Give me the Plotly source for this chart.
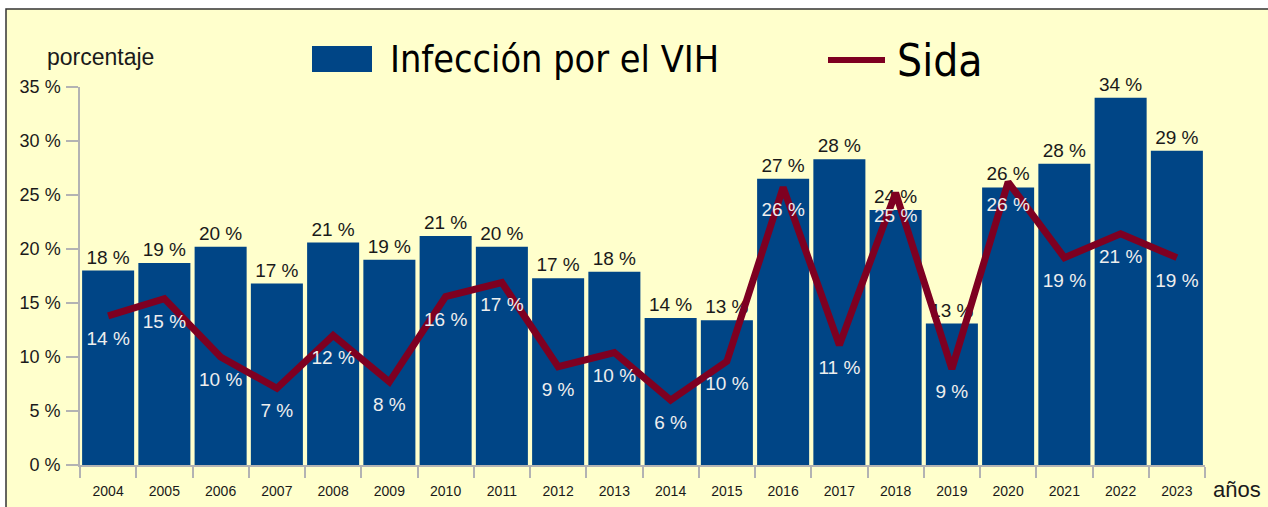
import plotly.graph_objects as go

years = [str(y) for y in range(2004, 2024)]
vih = [18.0, 18.7, 20.2, 16.8, 20.6, 19.0, 21.2, 20.2, 17.3, 17.9,
       13.6, 13.4, 26.5, 28.3, 23.6, 13.1, 25.7, 27.9, 34.0, 29.1]
sida = [13.8, 15.4, 10.0, 7.1, 12.0, 7.7, 15.6, 16.9, 9.1, 10.4,
        6.0, 9.6, 25.7, 11.1, 25.2, 8.9, 26.2, 19.2, 21.4, 19.2]
y_ticks = [0, 5, 10, 15, 20, 25, 30, 35]

BLUE = "#004586"
RED = "#7e0021"
BG = "#ffffcc"
FONT = "Liberation Sans, Arial, sans-serif"
LEG_FONT = "Liberation Sans Narrow, DejaVu Sans Condensed, sans-serif"

# pixel -> paper helpers (plot area 80..1205 x 87..465)
L, R, T, B = 80, 1205, 87, 465
def px(x):
    return (x - L) / (R - L)
def py(y):
    return (B - y) / (B - T)

fig = go.Figure()
fig.add_trace(go.Bar(
    x=years, y=vih, name="Infección por el VIH",
    marker=dict(color=BLUE, line=dict(width=0)),
    text=vih, texttemplate="%{y:.0f} %", textposition="outside",
    textfont=dict(size=19, color="#1a1a1a", family=FONT),
    constraintext="none", cliponaxis=False,
))
fig.add_trace(go.Scatter(
    x=years, y=sida, name="Sida", mode="lines+markers+text",
    line=dict(color=RED, width=7),
    marker=dict(size=22, color="rgba(0,0,0,0)"),
    text=sida, texttemplate="%{y:.0f} %", textposition="bottom center",
    textfont=dict(size=19, color="#eeeeee", family=FONT),
    cliponaxis=False,
))

shapes = [
    # chart frame
    dict(type="rect", xref="paper", yref="paper", layer="below",
         x0=px(6), x1=px(1290), y0=py(530), y1=py(9),
         fillcolor=BG, line=dict(color="#333333", width=1.5)),
    # legend swatches
    dict(type="rect", xref="paper", yref="paper",
         x0=px(312), x1=px(372), y0=py(72), y1=py(46),
         fillcolor=BLUE, line=dict(width=0)),
    dict(type="line", xref="paper", yref="paper",
         x0=px(828), x1=px(885), y0=py(60), y1=py(60),
         line=dict(color=RED, width=6)),
]

annotations = [
    dict(text="Infección por el VIH", xref="paper", yref="paper",
         x=px(388), y=py(59), xanchor="left", yanchor="middle", showarrow=False,
         font=dict(size=37.5, color="#000000", family=LEG_FONT)),
    dict(text="Sida", xref="paper", yref="paper",
         x=px(895), y=py(61), xanchor="left", yanchor="middle", showarrow=False,
         font=dict(size=44, color="#000000", family=LEG_FONT)),
    dict(text="porcentaje", xref="paper", yref="paper",
         x=px(100), y=py(57), xanchor="center", yanchor="middle", showarrow=False,
         font=dict(size=23, color="#1a1a1a", family=FONT)),
    dict(text="años", xref="paper", yref="paper",
         x=px(1237), y=py(490), xanchor="center", yanchor="middle", showarrow=False,
         font=dict(size=22, color="#1a1a1a", family=FONT)),
]

fig.update_layout(
    width=1268, height=507,
    margin=dict(l=L, r=1268 - R, t=T, b=507 - B),
    paper_bgcolor="white", plot_bgcolor="rgba(0,0,0,0)",
    showlegend=False, bargap=0.075,
    font=dict(family=FONT, color="#1a1a1a"),
    shapes=shapes, annotations=annotations,
)
fig.update_xaxes(
    type="category", range=[-0.5, len(years) - 0.5], automargin=False,
    showgrid=False, showline=True, linecolor="#b3b3b3", linewidth=1.5,
    ticks="outside", tickson="boundaries", ticklen=11, tickcolor="#b3b3b3", tickwidth=1.5,
    tickfont=dict(size=14, color="#1a1a1a"), ticklabelstandoff=12,
)
fig.update_yaxes(
    range=[0, 35], tickvals=y_ticks, ticktext=[f"{v} %" for v in y_ticks],
    automargin=False,
    showgrid=False, showline=True, linecolor="#b3b3b3", linewidth=1.5,
    ticks="outside", ticklen=12, tickcolor="#b3b3b3", tickwidth=1.5,
    tickfont=dict(size=18, color="#1a1a1a"), ticklabelstandoff=2, zeroline=False,
)

# page margin off so the figure sits at the window origin
fig.write_html(
    "out.html",
    config={"displayModeBar": False},
    post_script="document.body.style.margin='0';document.body.style.overflow='hidden';",
)
